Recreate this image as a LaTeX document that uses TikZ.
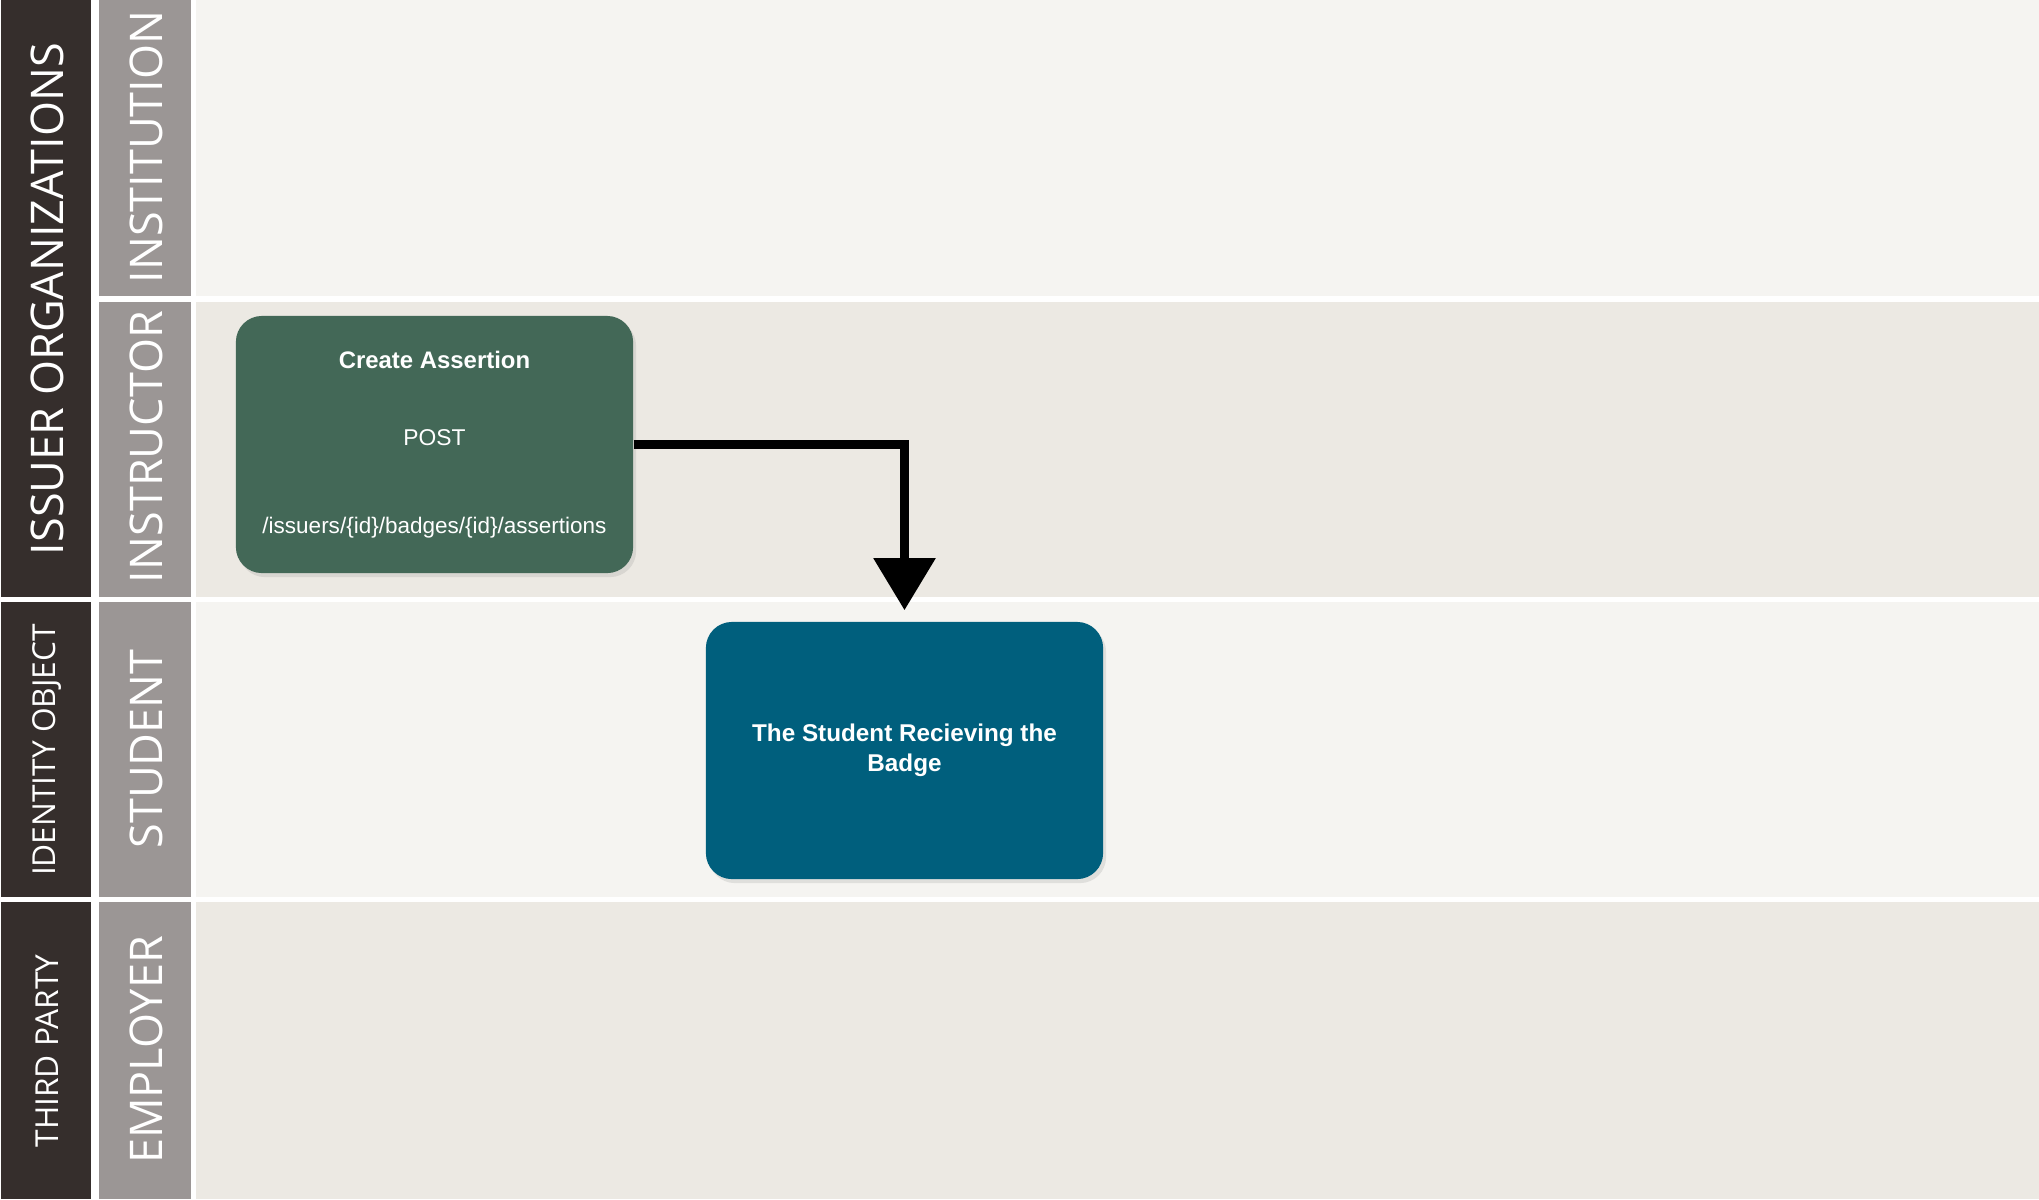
\documentclass[tikz,border=0pt]{standalone}
\usepackage{fontspec}
\usepackage{tikz}
\usetikzlibrary{arrows.meta,positioning,shadows}
\newfontfamily\lanefont{Open Sans}
\newfontfamily\boxfont{Liberation Sans}
\definecolor{charcoal}{RGB}{53,46,44}
\definecolor{stone}{RGB}{155,150,149}
\definecolor{paper}{RGB}{245,244,241}
\definecolor{linen}{RGB}{236,233,227}
\definecolor{pine}{RGB}{67,104,87}
\definecolor{petrol}{RGB}{0,95,125}

\begin{document}
\begin{tikzpicture}[x=0.01cm,y=-0.01cm,
    grouplabel/.style={text=white,rotate=90,inner sep=0pt,font=\lanefont\fontsize{9}{9}\selectfont},
    rolelabel/.style={text=white,rotate=90,inner sep=0pt,font=\lanefont\fontsize{12.8}{12.8}\selectfont},
    actbox/.style={text=white,rounded corners=0.26cm,minimum width=3.97cm,minimum height=2.57cm,
      align=center,drop shadow={shadow xshift=0.03cm,shadow yshift=-0.04cm,opacity=0.18}},
    flow/.style={line width=0.09cm,-{Triangle[length=0.52cm,width=0.6cm]},shorten >=0.11cm}]
  \useasboundingbox (0,0) rectangle (2039,1199);
  \fill[white] (0,0) rectangle (2039,1199);
  % lanes
  \fill[paper] (196,0) rectangle (2039,296);
  \fill[linen] (196,302) rectangle (2039,597);
  \fill[paper] (196,602) rectangle (2039,897);
  \fill[linen] (196,902) rectangle (2039,1199);
  % group column
  \fill[charcoal] (1,0) rectangle (91,597);
  \fill[charcoal] (1,602) rectangle (91,897);
  \fill[charcoal] (1,902) rectangle (91,1199);
  % role column
  \fill[stone] (99,0) rectangle (191,296);
  \fill[stone] (99,302) rectangle (191,597);
  \fill[stone] (99,602) rectangle (191,897);
  \fill[stone] (99,902) rectangle (191,1199);
  % lane labels
  \node[grouplabel,font=\lanefont\fontsize{12.8}{12.8}\selectfont] (issuer) at (47,299) {ISSUER ORGANIZATIONS};
  \node[grouplabel] (identity) at (47,750) {IDENTITY OBJECT};
  \node[grouplabel] (thirdparty) at (47,1051) {THIRD PARTY};
  \node[rolelabel] (institution) at (146,147) {INSTITUTION};
  \node[rolelabel] (instructor) at (146,447) {INSTRUCTOR};
  \node[rolelabel] (student) at (146,749) {STUDENT};
  \node[rolelabel] (employer) at (146,1050) {EMPLOYER};
  % steps
  \node[actbox,fill=pine] (create) at (434.5,444.5)
    {{\boxfont\bfseries\fontsize{6.8}{8}\selectfont Create Assertion}\\[10pt]
     {\boxfont\fontsize{6.5}{8}\selectfont POST}\\[12.9pt]
     {\boxfont\fontsize{6.4}{8}\selectfont /issuers/\{id\}/badges/\{id\}/assertions}};
  \node[actbox,fill=petrol,font=\boxfont\bfseries\fontsize{6.9}{8.5}\selectfont] (badge) at (904.5,750.5)
    {The Student Recieving the\\Badge};
  \draw[flow] (create.east) -| (badge.north);
\end{tikzpicture}
\end{document}
